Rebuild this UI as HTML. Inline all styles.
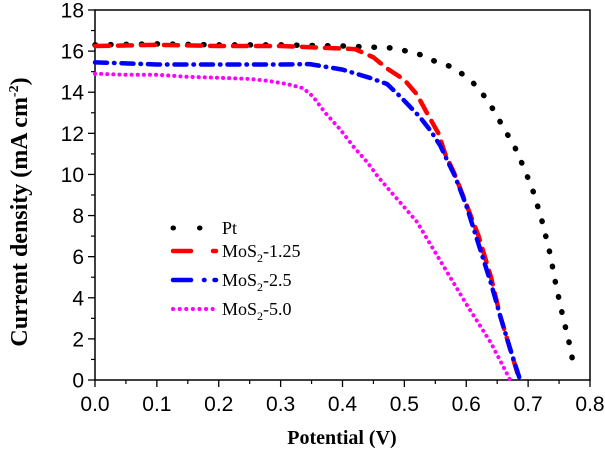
<!DOCTYPE html>
<html><head><meta charset="utf-8"><style>
html,body{margin:0;padding:0;background:#fff;}
svg{display:block;}
</style></head><body>
<svg id="chart" width="605" height="452" xmlns="http://www.w3.org/2000/svg"></svg>
<script>
const xTicks=[0.0,0.1,0.2,0.3,0.4,0.5,0.6,0.7,0.8];
const yTicks=[0,2,4,6,8,10,12,14,16,18];
const ptV=[0,0.1,0.2,0.3,0.4,0.48,0.52,0.55,0.58,0.61,0.635,0.656,0.679,0.695,0.709,0.722,0.735,0.745,0.756,0.766,0.775];
const ptJ=[16.3,16.35,16.3,16.3,16.25,16.15,15.9,15.5,15.2,14.5,13.6,12.5,11.3,10.2,9.1,7.8,6.2,4.6,3.1,1.85,0.5];
const m125V=[0,0.1,0.2,0.3,0.42,0.45,0.47,0.50,0.52,0.54,0.555,0.566,0.58,0.593,0.62,0.64,0.655,0.67,0.686];
const m125J=[16.25,16.3,16.25,16.25,16.1,15.7,15.2,14.6,13.9,12.8,12.0,11.0,10.1,9.1,7.0,5.0,3.1,1.6,0];
const m25V=[0,0.05,0.1,0.2,0.3,0.347,0.4,0.444,0.472,0.493,0.525,0.543,0.558,0.569,0.582,0.6,0.62,0.64,0.655,0.67,0.687];
const m25J=[15.45,15.4,15.35,15.35,15.35,15.37,15.1,14.7,14.4,13.8,12.8,12.1,11.4,10.7,9.9,8.5,6.6,4.7,3.1,1.6,0];
const m50V=[0,0.05,0.1,0.15,0.2,0.25,0.28,0.31,0.336,0.352,0.372,0.396,0.419,0.44,0.457,0.477,0.5,0.52,0.56,0.6,0.64,0.671];
const m50J=[14.9,14.85,14.85,14.75,14.7,14.65,14.55,14.4,14.2,13.8,13.0,12.2,11.3,10.6,9.9,9.2,8.4,7.7,5.7,3.7,1.8,0];

const svg=document.getElementById('chart');
const NS='http://www.w3.org/2000/svg';
const X0=95,X1=590,Y0=380,Y1=10;
const xs=v=>X0+(v-0)/(0.8-0)*(X1-X0);
const ys=v=>Y0-(v-0)/(18-0)*(Y0-Y1);
function mk(tag,attrs,parent){const e=document.createElementNS(NS,tag);for(const k in attrs)e.setAttribute(k,attrs[k]);(parent||svg).appendChild(e);return e;}

const frame=mk('rect',{x:X0,y:Y1,width:X1-X0,height:Y0-Y1,fill:'none',stroke:'#000','stroke-width':1.5});



const xAxisG=mk('g',{});


xTicks.forEach((t,i)=>{
  const x=xs(t);
  mk('line',{x1:x,x2:x,y1:Y0,y2:Y0+7,stroke:'#000','stroke-width':1.3},xAxisG);
  if(i<xTicks.length-1){const xm=xs(t+0.05);mk('line',{x1:xm,x2:xm,y1:Y0,y2:Y0+4,stroke:'#000','stroke-width':1.2},xAxisG);}
  const tx=mk('text',{x:x,y:Y0+31,'text-anchor':'middle','font-family':'Liberation Sans, sans-serif','font-size':21},xAxisG);
  tx.textContent=t.toFixed(1);
  
  
});
const yAxisG=mk('g',{});


yTicks.forEach((t,i)=>{
  const y=ys(t);
  mk('line',{x1:X0-7,x2:X0,y1:y,y2:y,stroke:'#000','stroke-width':1.3},yAxisG);
  if(i<yTicks.length-1){const ym=ys(t+1);mk('line',{x1:X0-4,x2:X0,y1:ym,y2:ym,stroke:'#000','stroke-width':1.2},yAxisG);}
  const tx=mk('text',{x:X0-11,y:y+7.5,'text-anchor':'end','font-family':'Liberation Sans, sans-serif','font-size':21},yAxisG);
  tx.textContent=t;
  
  
});
const xt=mk('text',{x:342,y:444,'text-anchor':'middle','font-family':'Liberation Serif, serif','font-size':20,'font-weight':'bold'});
xt.textContent='Potential (V)';


const yt=mk('text',{transform:'translate(27,212) rotate(-90)','text-anchor':'middle','font-family':'Liberation Serif, serif','font-size':24,'font-weight':'bold'});
yt.innerHTML='Current density (mA cm<tspan dy="-9" font-size="14">-2</tspan><tspan dy="9">)</tspan>';



const series=[
 {V:ptV,J:ptJ,c:'#000',dash:'0.5 15',w:5.5,name:'series-pt'},
 {V:m125V,J:m125J,c:'#ff0000',dash:'14 9',w:4.5,name:'series-mos2-1.25'},
 {V:m25V,J:m25J,c:'#0000ff',dash:'12 7 0.5 7',w:4.5,name:'series-mos2-2.5'},
 {V:m50V,J:m50J,c:'#ff00ff',dash:'0.1 6',w:4,name:'series-mos2-5.0'}
];
series.forEach(s=>{
  const d=s.V.map((v,i)=>(i?'L':'M')+xs(v).toFixed(1)+','+ys(s.J[i]).toFixed(1)).join(' ');
  const p=mk('path',{d:d,fill:'none',stroke:s.c,'stroke-width':s.w,'stroke-dasharray':s.dash,'stroke-linecap':'round','stroke-linejoin':'round'});
  
  
});

const legend=[
 {y:228,c:'#000',dash:'0.5 26',w:5,label:'Pt'},
 {y:251,c:'#ff0000',dash:'18 22',w:4.5,label:'MoS<tspan font-size="12" dy="5">2</tspan><tspan dy="-5">-1.25</tspan>'},
 {y:280,c:'#0000ff',dash:'18 13 0.5 10',w:4.5,label:'MoS<tspan font-size="12" dy="5">2</tspan><tspan dy="-5">-2.5</tspan>'},
 {y:309,c:'#ff00ff',dash:'0.1 6.5',w:4,label:'MoS<tspan font-size="12" dy="5">2</tspan><tspan dy="-5">-5.0</tspan>'}
];
legend.forEach(l=>{
  const g=mk('g',{});
  
  
  mk('line',{x1:173,x2:216,y1:l.y,y2:l.y,stroke:l.c,'stroke-width':l.w,'stroke-dasharray':l.dash,'stroke-linecap':'round'},g);
  const t=mk('text',{x:222,y:l.y+6,'font-family':'Liberation Serif, serif','font-size':18},g);
  t.innerHTML=l.label;
});
</script>
</body></html>
